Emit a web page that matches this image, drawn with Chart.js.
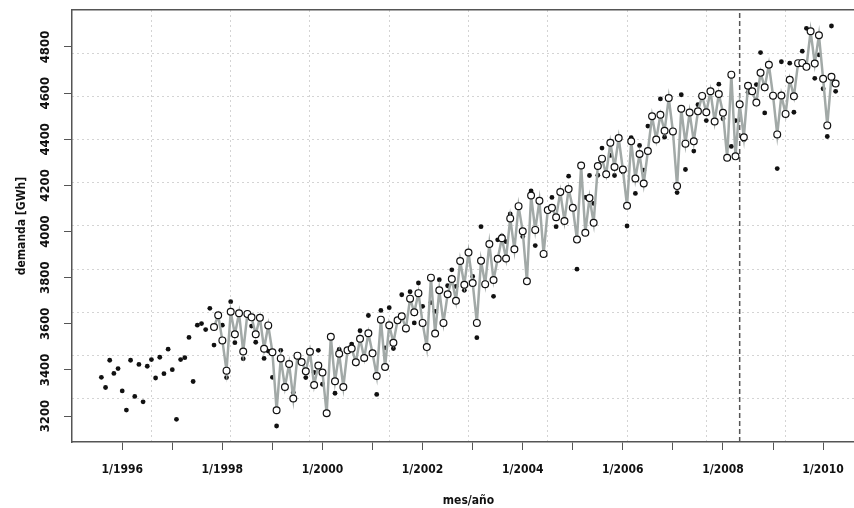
<!DOCTYPE html>
<html>
<head>
<meta charset="utf-8">
<script src="https://cdn.jsdelivr.net/npm/chart.js@4.4.1/dist/chart.umd.min.js"></script>
<style>
  html, body { margin: 0; padding: 0; background: #fff; overflow: hidden; }
  #wrap { width: 875px; height: 508px; }
</style>
</head>
<body>
<div id="wrap"><canvas id="demandChart" width="875" height="508"></canvas></div>
<script>
/* DATA */
// monthly demand [GWh], first value = aug 1995
const actualStart = 1995 + 7 / 12;
const actual = [
  3368, 3324, 3442, 3385, 3406,
  3309, 3226, 3442, 3285, 3424, 3262, 3416, 3445, 3365, 3455, 3384, 3490,
  3401, 3186, 3445, 3453, 3541, 3350, 3594, 3601, 3575, 3667, 3508, 3640,
  3594, 3367, 3696, 3518, 3646, 3449, 3643, 3590, 3520, 3626, 3450, 3482,
  3368, 3157, 3485, 3326, 3426, 3302, 3462, 3434, 3367, 3479, 3389, 3485,
  3338, 3212, 3544, 3299, 3489, 3326, 3485, 3512, 3433, 3570, 3452, 3636,
  3472, 3294, 3658, 3496, 3670, 3493, 3615, 3726, 3580, 3739, 3604, 3777,
  3676, 3499, 3692, 3654, 3791, 3597, 3765, 3834, 3762, 3872, 3745, 3909,
  3805, 3540, 4021, 3772, 3946, 3719, 3964, 3981, 3956, 4076, 3923, 4110,
  3978, 3784, 4176, 3939, 4133, 3903, 4093, 4148, 4021, 4171, 4046, 4240,
  4103, 3837, 4286, 4148, 4243, 4122, 4244, 4362, 4248, 4330, 4243, 4405,
  4258, 4024, 4407, 4165, 4373, 4266, 4457, 4500, 4399, 4575, 4409, 4579,
  4434, 4169, 4593, 4269, 4516, 4349, 4550, 4588, 4481, 4608, 4477, 4639,
  4489, 4320, 4369, 4481, 4552, 4398, 4603, 4608, 4637, 4776, 4514, 4723,
  4589, 4273, 4736, 4510, 4730, 4517, 4730, 4782, 4881, 4868, 4664, 4766,
  4619, 4412, 4891, 4608
];

// model values, first value = nov 1997
const fittedStart = 1997 + 10 / 12;
const fitted = [
  3586, 3637,
  3528, 3397, 3652, 3555, 3646, 3480, 3643, 3628, 3555, 3626, 3492, 3593,
  3477, 3225, 3450, 3326, 3426, 3276, 3462, 3434, 3394, 3479, 3335, 3419,
  3389, 3212, 3544, 3351, 3470, 3326, 3485, 3493, 3433, 3535, 3452, 3559,
  3472, 3374, 3618, 3413, 3594, 3518, 3615, 3633, 3580, 3709, 3650, 3733,
  3604, 3499, 3800, 3558, 3745, 3604, 3728, 3794, 3700, 3872, 3769, 3909,
  3777, 3604, 3873, 3772, 3946, 3790, 3882, 3971, 3883, 4057, 3923, 4110,
  4001, 3784, 4156, 4007, 4133, 3903, 4093, 4103, 4062, 4171, 4046, 4184,
  4103, 3965, 4286, 3995, 4145, 4038, 4284, 4316, 4248, 4385, 4280, 4405,
  4269, 4112, 4391, 4230, 4336, 4208, 4349, 4500, 4399, 4506, 4437, 4579,
  4434, 4197, 4532, 4381, 4516, 4391, 4521, 4588, 4517, 4608, 4477, 4596,
  4515, 4320, 4680, 4326, 4552, 4409, 4632, 4608, 4559, 4688, 4625, 4723,
  4589, 4421, 4590, 4510, 4658, 4586, 4730, 4731, 4714, 4868, 4728, 4851,
  4662, 4460, 4671, 4642
];

const cutDate = 2008 + 4 / 12; // may 2008
const yearTicks = [1996, 1997, 1998, 1999, 2000, 2001, 2002, 2003, 2004, 2005, 2006, 2007, 2008, 2009, 2010];
const demandTicks = [3200, 3400, 3600, 3800, 4000, 4200, 4400, 4600, 4800];

/* BUILD */
const toPoints = (start, vals) => vals.map((v, i) => ({ x: start + i / 12, y: v }));

const xFirst = actualStart;
const xLast = actualStart + (actual.length - 1) / 12;
const xMin = xFirst - 0.04 * (xLast - xFirst);
const xMax = xLast + 0.04 * (xLast - xFirst);
const allVals = actual.concat(fitted);
const vMin = Math.min(...allVals), vMax = Math.max(...allVals);
const yMin = vMin - 0.04 * (vMax - vMin);
const yMax = vMax + 0.04 * (vMax - vMin);

const FONT = "'Liberation Sans Narrow', 'DejaVu Sans Condensed', 'Liberation Sans', sans-serif";
const AXIS = "#555";

// 10 equal divisions for the dotted grid
const divisions = (lo, hi) => [1, 2, 3, 4, 5, 6, 7, 8, 9].map((k) => ({ value: lo + (k * (hi - lo)) / 10 }));

const gridAxis = (pos, lo, hi) => ({
  type: "linear", position: pos, min: lo, max: hi,
  afterBuildTicks: (s) => { s.ticks = divisions(lo, hi); },
  afterFit: (s) => { if (pos === "bottom") s.height = 0; else s.width = 0; },
  ticks: { display: false },
  grid: { color: "#d4d4d4", lineWidth: 1, drawTicks: false },
  border: { display: false, dash: [2, 3] },
});

const frameAxis = (pos, lo, hi) => ({
  type: "linear", position: pos, min: lo, max: hi,
  afterFit: (s) => { if (pos === "top") s.height = 0; else s.width = 0; },
  ticks: { display: false },
  grid: { drawOnChartArea: false, drawTicks: false },
  border: { display: true, color: AXIS, width: 1.5 },
});

new Chart(document.getElementById("demandChart"), {
  type: "scatter",
  data: {
    datasets: [
      {
        data: toPoints(fittedStart, fitted),
        showLine: true,
        borderColor: "#a2a9a7",
        borderWidth: 2.5,
        pointRadius: 3.4,
        pointBackgroundColor: "#fff",
        pointBorderColor: "#111",
        pointBorderWidth: 1.2,
        xAxisID: "x", yAxisID: "y",
      },
      {
        data: toPoints(actualStart, actual),
        pointRadius: 2.4,
        pointBackgroundColor: "#111",
        pointBorderWidth: 0,
        xAxisID: "x", yAxisID: "y",
      },
      {
        data: [{ x: cutDate, y: yMin }, { x: cutDate, y: yMax }],
        showLine: true,
        borderColor: "#555",
        borderWidth: 1.5,
        borderDash: [5, 3],
        pointRadius: 0,
        xAxisID: "x", yAxisID: "y",
      },
    ],
  },
  options: {
    responsive: false,
    animation: false,
    devicePixelRatio: 1,
    layout: { padding: { top: 10, right: 10, left: 0, bottom: 0 } },
    plugins: { legend: { display: false }, tooltip: { enabled: false } },
    scales: {
      x: {
        type: "linear", position: "bottom", min: xMin, max: xMax, weight: 1,
        afterBuildTicks: (s) => { s.ticks = yearTicks.map((v) => ({ value: v })); },
        afterFit: (s) => { s.height = 66; },
        ticks: {
          autoSkip: false, maxRotation: 0, minRotation: 0, padding: 13,
          color: "#111", font: { family: FONT, size: 12, weight: "bold" },
          callback: (v) => (v % 2 === 0 ? "1/" + v : ""),
        },
        grid: { drawOnChartArea: false, tickLength: 8, tickColor: AXIS },
        border: { display: true, color: AXIS, width: 1.5 },
        title: {
          display: true, text: "mes/año", color: "#111",
          font: { family: FONT, size: 12, weight: "bold" },
          padding: { top: 0, bottom: 0 },
        },
      },
      y: {
        type: "linear", position: "left", min: yMin, max: yMax, weight: 1,
        afterBuildTicks: (s) => { s.ticks = demandTicks.map((v) => ({ value: v })); },
        afterFit: (s) => { s.width = 72; },
        ticks: {
          minRotation: 90, maxRotation: 90, crossAlign: "center", padding: 2,
          color: "#111", font: { family: FONT, size: 13, weight: "bold" },
          callback: (v) => String(v),
        },
        grid: { drawOnChartArea: false, tickLength: 8, tickColor: AXIS },
        border: { display: true, color: AXIS, width: 1.5 },
        title: {
          display: true, text: "demanda [GWh]", color: "#111",
          font: { family: FONT, size: 12, weight: "bold" },
          padding: { top: 15, bottom: 0 },
        },
      },
      xg: gridAxis("bottom", xMin, xMax),
      yg: gridAxis("left", yMin, yMax),
      xt: frameAxis("top", xMin, xMax),
      yr: frameAxis("right", yMin, yMax),
    },
  },
});
</script>
</body>
</html>
